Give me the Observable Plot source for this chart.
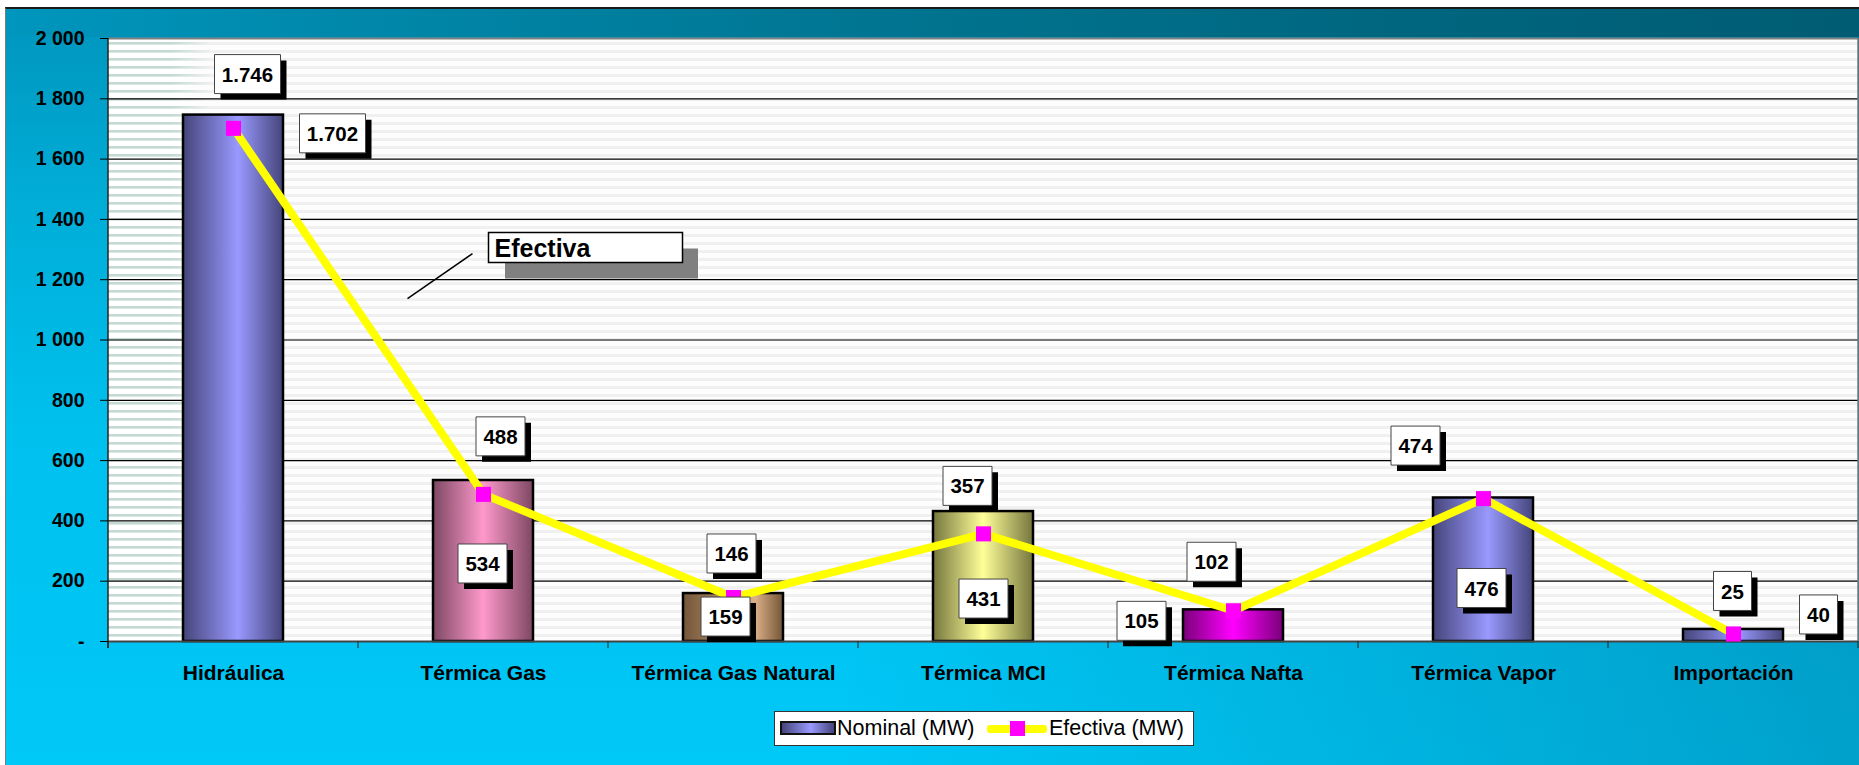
<!DOCTYPE html>
<html>
<head>
<meta charset="utf-8">
<script src="https://cdn.jsdelivr.net/npm/d3@7"></script>
<script src="https://cdn.jsdelivr.net/npm/@observablehq/plot@0.6"></script>
<style>
html, body { margin: 0; padding: 0; background: #fff; width: 1859px; height: 765px; overflow: hidden; font-family: "Liberation Sans", Arial, sans-serif; }
#frame { position: absolute; left: 5px; top: 7px; width: 1854px; height: 758px; box-sizing: border-box;
  border-left: 1px solid #7a7a7a; border-top: 2px solid #1a1a1a;
  background:
    linear-gradient(to right, rgba(0,60,90,0) 0%, rgba(0,60,90,0) 45%, rgba(0,60,90,0.28) 100%),
    linear-gradient(to bottom, #0094bc 0px, #00acd6 180px, #00c0ee 420px, #00c8f7 100%); }
#band { position: absolute; left: 6px; top: 9px; width: 1853px; height: 28px;
  background: linear-gradient(to right, #0096bd 0%, #0088ab 18%, #00738f 50%, #00667f 75%, #005c73 100%); }
#chart { position: absolute; left: 0; top: 0; }
#legend { position: absolute; left: 774px; top: 711px; width: 420px; height: 35px; box-sizing: border-box; background: #fff; border: 1px solid #333; font-size: 21.5px; color: #000; }
#legend span { position: absolute; }
</style>
</head>
<body>
<div id="frame"></div>
<div id="band"></div>
<div id="chart"></div>
<div id="legend">
  <span style="left:5px;top:9px;width:56px;height:14px;box-sizing:border-box;border:2px solid #111;background:linear-gradient(to right,#45457a,#9999ff 55%,#45457a);"></span>
  <span style="left:62px;top:3px;line-height:27px;">Nominal (MW)</span>
  <span style="left:212px;top:13px;width:60px;height:8px;background:#ffff00;border-radius:3px;"></span>
  <span style="left:235px;top:9px;width:15px;height:15px;background:#ff00ff;"></span>
  <span style="left:274px;top:3px;line-height:27px;">Efectiva (MW)</span>
</div>
<script>
// ---------- data ----------
const categories = ["Hidráulica", "Térmica Gas", "Térmica Gas Natural", "Térmica MCI", "Térmica Nafta", "Térmica Vapor", "Importación"];
const nominal  = [1746, 534, 159, 431, 105, 476, 40];
const efectiva = [1702, 488, 146, 357, 102, 474, 25];
const yTicks = [0, 200, 400, 600, 800, 1000, 1200, 1400, 1600, 1800, 2000];
const seriesNames = ["Nominal (MW)", "Efectiva (MW)"];
const annotationText = "Efectiva";

// ---------- layout / style (not data) ----------
const W = 1859, H = 765;
const nominalLabelOffset  = [[14, -41], [-1, 83], [-8, 23], [0, 87], [-92, 11], [-2, 90], [85, -15]];
const efectivaLabelOffset = [[99, 5], [17, -58], [-2, -44], [-16, -48], [-22, -49], [-68, -53], [-1, -43]];
const barStyles = [
  ["#45457a", "#9999ff", 0.55],
  ["#7d4862", "#ff99cc", 0.5],
  ["#735538", "#dcb088", 0.72],
  ["#76763e", "#ffff99", 0.5],
  ["#7a007a", "#ff00ff", 0.5],
  ["#45457a", "#9999ff", 0.55],
  ["#45457a", "#9999ff", 0.55]
];

const esNum = d3.formatLocale({decimal: ",", thousands: ".", grouping: [3], currency: ["", ""]}).format(",d");
const axNum = d3.formatLocale({decimal: ",", thousands: " ", grouping: [3], currency: ["", ""]}).format(",d");
const yTickFormat = d => d === 0 ? "-" : axNum(d);

const rows = categories.map((cat, i) => ({cat, nominal: nominal[i], efectiva: efectiva[i], i}));

function rectSymbol(w, h) {
  return {draw(ctx) { ctx.rect(-w / 2, -h / 2, w, h); }};
}
function boxWidth(t) {
  let w = 0;
  for (const ch of t) w += ch === "." ? 5.6 : 11.1;
  return Math.round(w + 16);
}

function plotBackground(index, scales, values, dims) {
  const {width, height, marginLeft: ml, marginTop: mt, marginRight: mr, marginBottom: mb} = dims;
  const x0 = ml, x1 = width - mr, y0 = mt, y1 = height - mb;
  const barLeft = scales.x(categories[0]);
  const g = d3.create("svg:g");
  const defs = g.append("defs");
  const p1 = defs.append("pattern").attr("id", "stripes").attr("patternUnits", "userSpaceOnUse")
    .attr("x", 0).attr("y", y0).attr("width", 8).attr("height", 8);
  p1.append("rect").attr("width", 8).attr("height", 8).attr("fill", "#fdfdfd");
  p1.append("rect").attr("y", 4).attr("width", 8).attr("height", 3).attr("fill", "#f0f0f0");
  const p2 = defs.append("pattern").attr("id", "stripesG").attr("patternUnits", "userSpaceOnUse")
    .attr("x", 0).attr("y", y0).attr("width", 8).attr("height", 8);
  p2.append("rect").attr("width", 8).attr("height", 8).attr("fill", "#ffffff");
  p2.append("rect").attr("y", 4).attr("width", 8).attr("height", 2.6).attr("fill", "#c4d9d1");
  const fg = defs.append("linearGradient").attr("id", "fadeG").attr("gradientUnits", "userSpaceOnUse")
    .attr("x1", barLeft - 12).attr("x2", barLeft + 28).attr("y1", 0).attr("y2", 0);
  fg.append("stop").attr("offset", 0).attr("stop-color", "#fff");
  fg.append("stop").attr("offset", 1).attr("stop-color", "#000");
  const mask = defs.append("mask").attr("id", "maskG").attr("maskUnits", "userSpaceOnUse")
    .attr("x", x0).attr("y", y0).attr("width", x1 - x0).attr("height", y1 - y0);
  mask.append("rect").attr("x", x0).attr("y", y0).attr("width", x1 - x0).attr("height", y1 - y0).attr("fill", "url(#fadeG)");
  barStyles.forEach(([edge, light, pos], i) => {
    const lg = defs.append("linearGradient").attr("id", "bar" + i).attr("x1", 0).attr("x2", 1).attr("y1", 0).attr("y2", 0);
    lg.append("stop").attr("offset", 0).attr("stop-color", edge);
    lg.append("stop").attr("offset", pos).attr("stop-color", light);
    lg.append("stop").attr("offset", 1).attr("stop-color", edge);
  });
  g.append("rect").attr("x", x0).attr("y", y0).attr("width", x1 - x0).attr("height", y1 - y0).attr("fill", "url(#stripes)");
  g.append("rect").attr("x", x0).attr("y", y0).attr("width", barLeft + 28 - x0).attr("height", y1 - y0)
    .attr("fill", "url(#stripesG)").attr("mask", "url(#maskG)");
  return g.node();
}

function axisDecor(index, scales, values, dims) {
  const {width, height, marginLeft: ml, marginTop: mt, marginRight: mr, marginBottom: mb} = dims;
  const y1 = height - mb;
  const step = scales.x(categories[1]) - scales.x(categories[0]);
  const g = d3.create("svg:g");
  const bounds = categories.map(c => scales.x(c) - 0.3 * step);
  bounds.push(scales.x(categories[categories.length - 1]) + 0.7 * step);
  bounds.forEach(b => g.append("line").attr("x1", b).attr("x2", b).attr("y1", y1).attr("y2", y1 + 7).attr("stroke", "#222"));
  g.append("line").attr("x1", ml).attr("x2", ml).attr("y1", mt).attr("y2", y1 + 7).attr("stroke", "#222").attr("stroke-width", 1.5);
  g.append("line").attr("x1", width - mr).attr("x2", width - mr).attr("y1", mt).attr("y2", y1).attr("stroke", "#777").attr("stroke-width", 1.5);
  return g.node();
}

function labelMarks(vals, offsets) {
  return rows.flatMap((r, i) => {
    const t = esNum(vals[i]);
    const [dx, dy] = offsets[i];
    const sym = rectSymbol(boxWidth(t), 39);
    const datum = [{cat: r.cat, v: vals[i], t}];
    return [
      Plot.dot(datum, {x: "cat", y: "v", symbol: sym, r: 1, fill: "#000", stroke: "none", dx: dx + 6, dy: dy + 6}),
      Plot.dot(datum, {x: "cat", y: "v", symbol: sym, r: 1, fill: "#fff", stroke: "#444", strokeWidth: 1, dx, dy}),
      Plot.text(datum, {x: "cat", y: "v", text: "t", dx, dy: dy + 1, fontSize: 20.5, fontWeight: "bold", fill: "#000"})
    ];
  });
}

const annot = [{cat: categories[0], v: 1300, t: annotationText}];
const calloutSym = {draw(ctx) { ctx.moveTo(174, 49); ctx.lineTo(239, 4); }};

const chart = Plot.plot({
  width: W, height: H,
  marginLeft: 108, marginRight: 1, marginTop: 38, marginBottom: 124,
  style: {background: "transparent", fontFamily: "'Liberation Sans', Arial, sans-serif", color: "#000"},
  x: {domain: categories, paddingInner: 0.6, paddingOuter: 0.3, label: null},
  y: {domain: [0, 2000], label: null},
  color: {type: "identity"},
  marks: [
    plotBackground,
    Plot.ruleY(yTicks.filter(d => d > 0 && d < 2000), {stroke: "#000", strokeWidth: 1.2}),
    Plot.ruleY([2000], {stroke: "#808080", strokeWidth: 2}),
    Plot.barY(rows, {x: "cat", y: "nominal", fill: d => `url(#bar${d.i})`, stroke: "#000", strokeWidth: 2.5}),
    Plot.ruleY([0], {stroke: "#444", strokeWidth: 2}),
    axisDecor,
    Plot.axisY({ticks: yTicks, tickFormat: yTickFormat, tickSize: 8, tickPadding: 16, fontSize: 19.5, fontWeight: "bold", stroke: "#000", fill: "#000", label: null}),
    Plot.axisX({tickSize: 0, tickPadding: 24, fontSize: 21, fontWeight: "bold", fill: "#000", label: null}),
    Plot.line(rows, {x: "cat", y: "efectiva", stroke: "#ffff00", strokeWidth: 8, strokeLinejoin: "round"}),
    Plot.dot(rows, {x: "cat", y: "efectiva", symbol: "square", r: 8.5, fill: "#ff00ff", stroke: "none"}),
    Plot.dot(annot, {x: "cat", y: "v", symbol: calloutSym, r: 1, fill: "none", stroke: "#000", strokeWidth: 1.5}),
    Plot.dot(annot, {x: "cat", y: "v", symbol: rectSymbol(193, 30), r: 1, fill: "#808080", stroke: "none", dx: 368, dy: 14}),
    Plot.dot(annot, {x: "cat", y: "v", symbol: rectSymbol(194, 30), r: 1, fill: "#fff", stroke: "#000", strokeWidth: 1.5, dx: 352, dy: -2}),
    Plot.text(annot, {x: "cat", y: "v", text: "t", textAnchor: "start", dx: 261, dy: -1, fontSize: 25, fontWeight: "bold", fill: "#000"}),
    ...labelMarks(nominal, nominalLabelOffset),
    ...labelMarks(efectiva, efectivaLabelOffset)
  ]
});
document.getElementById("chart").appendChild(chart);
</script>
</body>
</html>
